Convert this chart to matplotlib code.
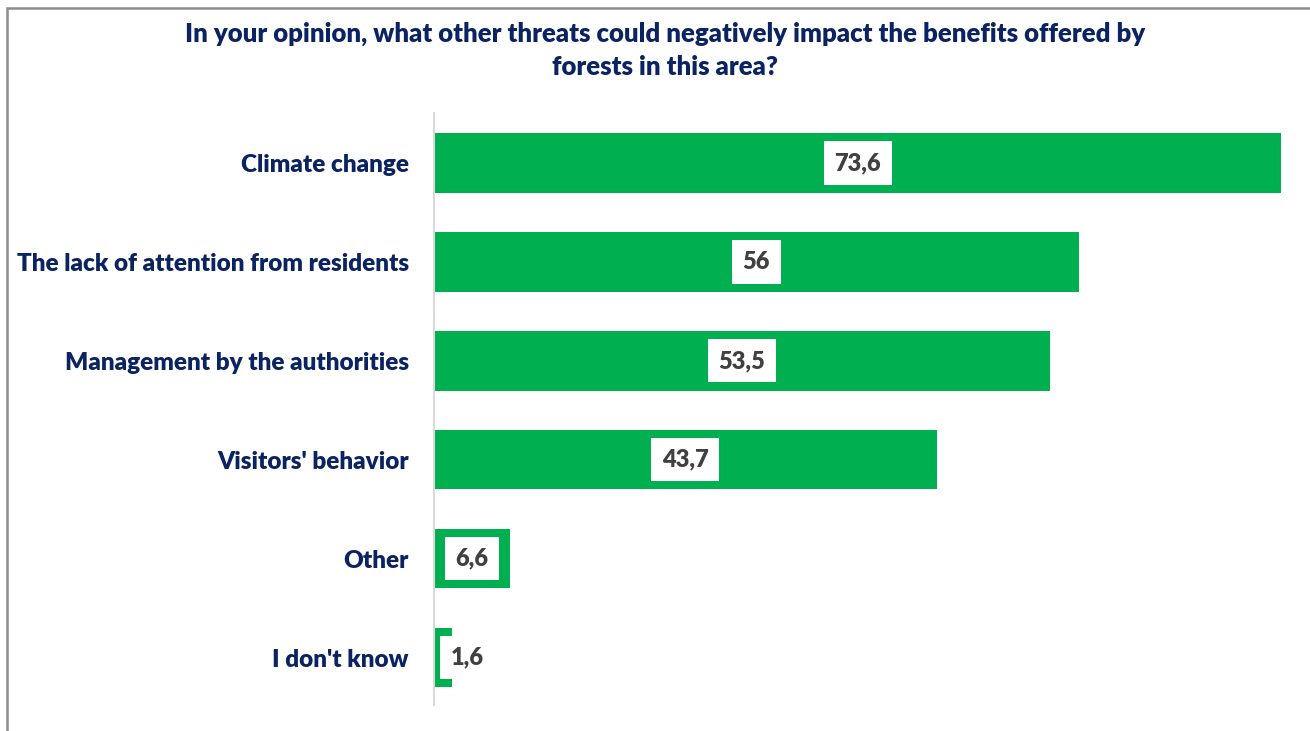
import matplotlib
matplotlib.use("Agg")
import matplotlib.pyplot as plt
from matplotlib.patches import Rectangle

categories = ["Climate change", "The lack of attention from residents",
              "Management by the authorities", "Visitors' behavior",
              "Other", "I don't know"]
values = [73.6, 56, 53.5, 43.7, 6.6, 1.6]
value_labels = ["73,6", "56", "53,5", "43,7", "6,6", "1,6"]
title = "In your opinion, what other threats could negatively impact the benefits offered by\nforests in this area?"

W, H = 1310, 731
fig = plt.figure(figsize=(W / 100, H / 100), dpi=100)
plt.rcParams['font.family'] = ['Lato', 'DejaVu Sans']

navy = "#0b2461"
green = "#00b050"
dark = "#404040"
wt = "heavy"

# outer frame
fig.patches.append(Rectangle((7 / W, -0.1), 1.2, 1 - 8 / H + 0.1, transform=fig.transFigure,
                             fill=False, edgecolor="#8c8c8c", linewidth=1.8, zorder=0))

ax = fig.add_axes([434 / W, 1 - 705 / H, (1300 - 434) / W, (705 - 113) / H])
ypos = list(range(len(categories)))
ax.barh(ypos, values, height=0.6, color=green, zorder=2)
ax.set_xlim(0, (1300 - 434) / 11.51)
ax.set_ylim(5.48, -0.506)
ax.set_yticks(ypos)
ax.set_yticklabels(categories, fontsize=17.5, fontweight=wt, color=navy)
ax.tick_params(axis="y", length=0, pad=18)
ax.set_xticks([])
for s in ["top", "right", "bottom"]:
    ax.spines[s].set_visible(False)
ax.spines["left"].set_color("#d9d9d9")
ax.spines["left"].set_linewidth(1.5)

for y, v, lab in zip(ypos, values, value_labels):
    x = v / 2 if v > 5 else v + 1.3
    ax.text(x, y, lab, ha="center", va="center", fontsize=17, fontweight=wt,
            color=dark, zorder=3,
            bbox=dict(boxstyle="square,pad=0.45", facecolor="white", edgecolor="none"))

fig.text(665 / W, 1 - 50 / H, title, ha="center", va="center", fontsize=18.5,
         fontweight=wt, color=navy, linespacing=1.45)

fig.savefig("out.png", dpi=100, facecolor="white")
